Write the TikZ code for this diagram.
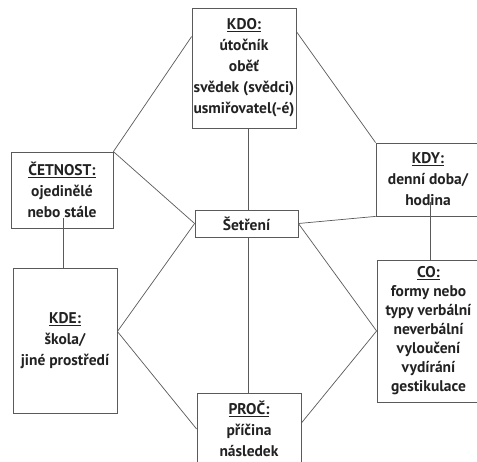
\documentclass[tikz,border=0pt]{standalone}
\usepackage{fontspec}
\setmainfont{PT Sans}
\usetikzlibrary{calc}
\definecolor{ink}{HTML}{222222}
\definecolor{rule}{HTML}{5A5A5A}
\tikzset{
  box/.style={draw=rule, line width=0.8pt, align=center, text=ink,
    font=\bfseries\fontsize{15.5}{21}\selectfont, inner sep=0pt},
  link/.style={draw=rule, line width=0.7pt},
}
\newcommand{\hd}[1]{\underline{#1}}
\begin{document}
\begin{tikzpicture}[x=1pt,y=-1pt]
\useasboundingbox (0,0) rectangle (477,461);
\clip (0,0) rectangle (477,461);
\fill[white] (0,0) rectangle (477,461);

\node[box, minimum width=104pt, minimum height=120pt] (kdo) at (244,68)
  {\hd{KDO:}\\útočník\\oběť\\svědek (svědci)\\usmiřovatel(-é)};
\node[box, minimum width=102pt, minimum height=76pt] (cet) at (62,190)
  {\hd{ČETNOST:}\\ojedinělé\\nebo stále};
\node[box, minimum width=104pt, minimum height=73pt] (kdy) at (428,179.5)
  {\hd{KDY:}\\denní doba/\\hodina};
\node[box, minimum width=103pt, minimum height=27pt] (set) at (246.5,223.5)
  {Šetření};
\node[box, minimum width=104pt, minimum height=145pt] (kde) at (65,340.5)
  {\hd{KDE:}\\škola/\\jiné prostředí};
\node[box, minimum width=103pt, minimum height=142pt,
  font=\bfseries\fontsize{15.5}{19}\selectfont] (co) at (428.5,331)
  {\hd{CO:}\\formy nebo\\typy verbální\\neverbální\\vyloučení\\vydírání\\gestikulace};
\node[box, minimum width=104pt, minimum height=72pt] (proc) at (249,429)
  {\hd{PROČ:}\\příčina\\následek};

\coordinate (cetin) at ($(cet.south)+(1,-10)$);
\coordinate (kdyin) at ($(kdy.south)+(2,-14)$);
\coordinate (midx) at (248,0);

\draw[link] (midx |- kdo.south) -- (midx |- set.north);
\draw[link] ($(kdo.north west)+(0,29)$) -- (cet.north east);
\draw[link] ($(kdo.north east)+(0,24)$) -- (kdy.north west);
\draw[link] (cet.north east) -- (set.west);
\draw[link] (cetin) -- (cetin |- kde.north);
\draw[link] (set.west) -- ($(kde.east)+(0,-9)$);
\draw[link] (set.east) -- (kdy.south west);
\draw[link] (set.east) -- (co.west);
\draw[link] (kdyin) -- (kdyin |- co.north);
\draw[link] (midx |- set.south) -- (midx |- proc.north);
\draw[link] ($(kde.east)+(0,-9)$) -- (proc.west);
\draw[link] (co.west) -- ($(proc.east)+(0,-6)$);
\end{tikzpicture}
\end{document}
